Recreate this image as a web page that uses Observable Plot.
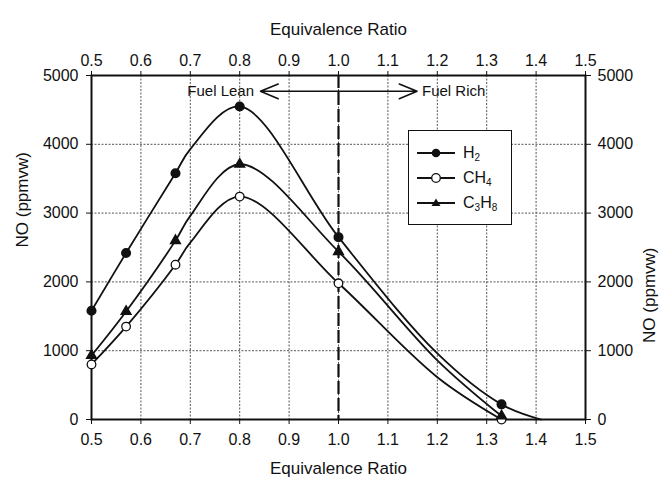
<!DOCTYPE html>
<html><head><meta charset="utf-8">
<script src="https://cdn.jsdelivr.net/npm/d3@7"></script>
<script src="https://cdn.jsdelivr.net/npm/@observablehq/plot@0.6"></script>
<style>
body{margin:0;background:#fff;font-family:"Liberation Sans",Arial,sans-serif;}
#wrap{position:relative;width:669px;height:485px;}
#legend{position:absolute;left:408px;top:130px;width:104px;height:95px;border:1.6px solid #111;background:#fff;box-sizing:border-box;font-size:16px;color:#111;}
#legend .row{position:absolute;left:8px;height:20px;display:flex;align-items:center;}
#legend .row svg{margin-right:8px;}
#legend sub{font-size:10px;vertical-align:-3px;}
</style></head><body><div id="wrap"></div>
<script>
// Axis ticks
const xTicks = [0.5, 0.6, 0.7, 0.8, 0.9, 1.0, 1.1, 1.2, 1.3, 1.4, 1.5];
const yTicks = [0, 1000, 2000, 3000, 4000, 5000];

// Measured points (markers)
const ratios = [0.5, 0.57, 0.67, 0.8, 1.0, 1.33];
const h2 = [1580, 2420, 3580, 4550, 2650, 220];
const ch4 = [800, 1350, 2250, 3240, 1980, 0];
const c3h8 = [930, 1570, 2600, 3710, 2440, 50];

// Curve traces (smooth fitted lines)
const h2CurveX = [0.5, 0.57, 0.67, 0.7, 0.8, 1.0, 1.2, 1.33, 1.41];
const h2CurveY = [1580, 2420, 3580, 3930, 4550, 2650, 960, 220, 0];
const ch4CurveX = [0.5, 0.57, 0.67, 0.7, 0.8, 1.0, 1.2, 1.33];
const ch4CurveY = [800, 1350, 2250, 2570, 3240, 1980, 615, 0];
const c3h8CurveX = [0.5, 0.57, 0.67, 0.7, 0.8, 1.0, 1.2, 1.33];
const c3h8CurveY = [930, 1570, 2600, 2960, 3710, 2440, 860, 50];

const fuels = ["H2", "CH4", "C3H8"];
const legendLabels = ["H<sub>2</sub>", "CH<sub>4</sub>", "C<sub>3</sub>H<sub>8</sub>"];

// Annotation
const stoich = 1.0;
const arrowY = 4770;
const arrowLeft = 0.842, arrowRight = 1.159;
const leanLabel = "Fuel Lean", richLabel = "Fuel Rich";
const leanX = 0.829, richX = 1.169;

const xTitle = "Equivalence Ratio";
const yTitle = "NO (ppmvw)";

const pts = (xs, ys) => xs.map((x, i) => ({x, y: ys[i]}));
const fmt = d3.format(".1f");

const chart = Plot.plot({
  width: 669, height: 485,
  marginLeft: 91, marginRight: 84, marginTop: 75, marginBottom: 66,
  style: {fontFamily: "'Liberation Sans', Arial, sans-serif", fontSize: "16px", color: "#111", background: "#fff"},
  x: {domain: [0.5, 1.5]},
  y: {domain: [0, 5000]},
  marks: [
    Plot.gridX(xTicks, {stroke: "#444", strokeOpacity: 0.9, strokeDasharray: "2,1.5", strokeWidth: 1}),
    Plot.gridY(yTicks, {stroke: "#444", strokeOpacity: 0.9, strokeDasharray: "2,1.5", strokeWidth: 1}),
    Plot.ruleX([stoich], {stroke: "#111", strokeWidth: 2.2, strokeDasharray: "13,4"}),
    Plot.frame({stroke: "#111", strokeWidth: 2}),
    Plot.axisX(xTicks, {anchor: "bottom", tickFormat: fmt, tickSize: 5, tickPadding: 9, label: null, fontSize: 16}),
    Plot.axisX(xTicks, {anchor: "top", tickFormat: fmt, tickSize: 5, tickPadding: 5, label: null, fontSize: 16}),
    Plot.axisY(yTicks, {anchor: "left", tickFormat: d => String(d), tickSize: 5, tickPadding: 8, label: null, fontSize: 16}),
    Plot.axisY(yTicks, {anchor: "right", tickFormat: d => String(d), tickSize: 5, tickPadding: 7, label: null, fontSize: 16}),
    Plot.text([xTitle], {text: d => d, frameAnchor: "bottom", dy: 54, fontSize: 17}),
    Plot.text([xTitle], {text: d => d, frameAnchor: "top", dy: -53, fontSize: 17}),
    Plot.text([yTitle], {text: d => d, frameAnchor: "left", dx: -69, rotate: -90, fontSize: 17}),
    Plot.text([yTitle], {text: d => d, frameAnchor: "right", dx: 64, rotate: -90, fontSize: 17}),
    Plot.line(pts(h2CurveX, h2CurveY), {x: "x", y: "y", curve: "catmull-rom", stroke: "#111", strokeWidth: 1.8}),
    Plot.line(pts(ch4CurveX, ch4CurveY), {x: "x", y: "y", curve: "catmull-rom", stroke: "#111", strokeWidth: 1.8}),
    Plot.line(pts(c3h8CurveX, c3h8CurveY), {x: "x", y: "y", curve: "catmull-rom", stroke: "#111", strokeWidth: 1.8}),
    Plot.dot(pts(ratios, h2), {x: "x", y: "y", r: 4.3, fill: "#111", stroke: "#111"}),
    Plot.dot(pts(ratios, ch4), {x: "x", y: "y", r: 4.3, fill: "#fff", stroke: "#111", strokeWidth: 1.3}),
    Plot.dot(pts(ratios, c3h8), {x: "x", y: "y", r: 3.6, symbol: "triangle", fill: "#111", stroke: "#111"}),
    Plot.arrow([{x1: stoich, x2: arrowLeft}, {x1: stoich, x2: arrowRight}], {x1: "x1", x2: "x2", y1: arrowY, y2: arrowY, stroke: "#111", strokeWidth: 1.6, headLength: 18, headAngle: 45}),
    Plot.text([{x: leanX, y: arrowY, t: leanLabel}], {x: "x", y: "y", text: "t", textAnchor: "end", fontSize: 15}),
    Plot.text([{x: richX, y: arrowY, t: richLabel}], {x: "x", y: "y", text: "t", textAnchor: "start", fontSize: 15})
  ]
});
const wrap = document.getElementById("wrap");
wrap.appendChild(chart);

// Legend
const legend = document.createElement("div");
legend.id = "legend";
const rowTops = [12, 37, 62];
fuels.forEach((f, i) => {
  const row = document.createElement("div");
  row.className = "row";
  row.style.top = rowTops[i] + "px";
  let marker;
  if (f === "H2") marker = '<circle cx="19" cy="7" r="4.3" fill="#111"/>';
  else if (f === "CH4") marker = '<circle cx="19" cy="7" r="4.3" fill="#fff" stroke="#111" stroke-width="1.3"/>';
  else marker = '<path d="M19,2.5 L23.5,10 L14.5,10 Z" fill="#111"/>';
  row.innerHTML = '<svg width="38" height="14"><line x1="0" y1="7" x2="38" y2="7" stroke="#111" stroke-width="1.8"/>' + marker + '</svg><span>' + legendLabels[i] + '</span>';
  legend.appendChild(row);
});
wrap.appendChild(legend);
</script>
</body></html>
